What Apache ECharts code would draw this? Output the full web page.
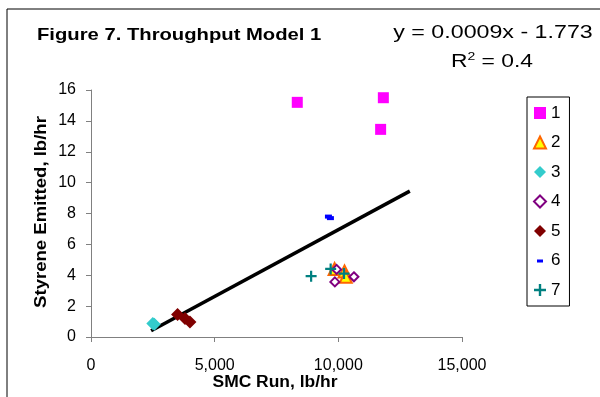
<!DOCTYPE html>
<html><head><meta charset="utf-8">
<script src="https://cdn.jsdelivr.net/npm/echarts@6/dist/echarts.min.js"></script>
<style>html,body{margin:0;padding:0;background:#fff}#c{width:600px;height:397px}</style>
</head><body><div id="c"></div>
<script>
var seriesNames = ['1','2','3','4','5','6','7'];
var s1 = [[8340,15.2],[11820,15.5],[11710,13.45]];
var s2 = [[9850,4.4],[10250,4.25],[10300,3.9]];
var s3 = [[2500,0.87],[2560,0.82]];
var s4 = [[9930,4.38],[9860,3.57],[10630,3.9]];
var s5 = [[3500,1.45],[3800,1.2],[4000,0.97]];
var s6 = [[9600,7.8],[9680,7.7]];
var s7 = [[8900,3.94],[9690,4.41],[10230,4.11]];
var trend = [[2430,0.4],[12890,9.45]];
var xTicks = [0,5000,10000,15000];
var yTicks = [0,2,4,6,8,10,12,14,16];

var FONT = 'Liberation Sans, Arial, sans-serif';
var plus = 'path://M4,0H6V10H4ZM0,4H10V6H0Z';
var dashIcon = 'path://M0,0L0.01,0L0.01,0.01ZM3,5H9V8H3ZM12,12L11.99,12L11.99,11.99Z';
function sc(name, data, symbol, size, style){
  style.opacity = 1;
  return {name:name, type:'scatter', data:data, symbol:symbol, symbolSize:size, itemStyle:style, z:3};
}
var legendData = seriesNames.map(function(n){
  return n === '6' ? {name:n, icon:dashIcon} : {name:n};
});
var chart = echarts.init(document.getElementById('c'));
chart.setOption({
  backgroundColor:'#fff',
  animation:false,
  textStyle:{fontFamily:FONT},
  graphic:[
    {type:'rect', shape:{x:7,y:9,width:700,height:500}, style:{fill:'none', stroke:'#000', lineWidth:1}, z:-1},
    {type:'text', x:37, y:35, scaleX:1.19, style:{text:'Figure 7. Throughput Model 1', font:'bold 17px '+FONT, fill:'#000', textAlign:'left', textVerticalAlign:'middle'}},
    {type:'text', x:493, y:33, scaleX:1.29, style:{text:'y = 0.0009x - 1.773', font:'18px '+FONT, fill:'#000', textAlign:'center', textVerticalAlign:'middle'}},
    {type:'text', x:492, y:62, scaleX:1.27, style:{text:'R{s|2} = 0.4', font:'18px '+FONT, fill:'#000', textAlign:'center', textVerticalAlign:'middle',
      rich:{s:{fontSize:11, verticalAlign:'top', padding:[0,0,10,0], fontFamily:FONT}}}},
    {type:'text', x:275, y:383, scaleX:1.09, style:{text:'SMC Run, lb/hr', font:'bold 16px '+FONT, fill:'#000', textAlign:'center', textVerticalAlign:'middle'}},
    {type:'text', x:42, y:212, rotation:Math.PI/2, scaleX:1.16, style:{text:'Styrene Emitted, lb/hr', font:'bold 16px '+FONT, fill:'#000', textAlign:'center', textVerticalAlign:'middle'}}
  ],
  legend:{
    data:legendData, orient:'vertical', left:527, top:97, width:42,
    padding:[7,9,7,6], itemGap:11.5, itemWidth:12, itemHeight:12,
    borderColor:'#000', borderWidth:1,
    textStyle:{fontSize:17, color:'#000', fontFamily:FONT, lineHeight:18}
  },
  grid:{left:91, right:138, top:90, bottom:60},
  xAxis:{type:'value', min:0, max:15000, interval:5000,
    axisLine:{show:true, lineStyle:{color:'#808080', width:1}},
    axisTick:{show:true, length:5, lineStyle:{color:'#808080'}},
    splitLine:{show:false},
    axisLabel:{fontSize:16, color:'#000', margin:21, fontFamily:FONT,
      formatter:function(v){return v.toLocaleString('en-US');}}
  },
  yAxis:{type:'value', min:0, max:16, interval:2,
    axisLine:{show:true, lineStyle:{color:'#808080', width:1}},
    axisTick:{show:true, length:5, lineStyle:{color:'#808080'}},
    splitLine:{show:false},
    axisLabel:{fontSize:16, color:'#000', margin:15, fontFamily:FONT}
  },
  series:[
    sc('1', s1, 'rect', 11, {color:'#FF00FF'}),
    sc('2', s2, 'triangle', 12, {color:'#FFFF00', borderColor:'#FF6600', borderWidth:2}),
    sc('3', s3, 'diamond', 13, {color:'#33CCCC'}),
    sc('4', s4, 'diamond', 9, {color:'#fff', borderColor:'#800080', borderWidth:2}),
    sc('5', s5, 'diamond', 13, {color:'#800000'}),
    sc('6', s6, 'rect', [7,4], {color:'#0000FF'}),
    sc('7', s7, plus, 11, {color:'#008080'}),
    {name:'trend', type:'line', data:trend, showSymbol:false, symbol:'none',
      lineStyle:{color:'#000', width:3.5}, z:2, silent:true}
  ]
});
</script></body></html>
